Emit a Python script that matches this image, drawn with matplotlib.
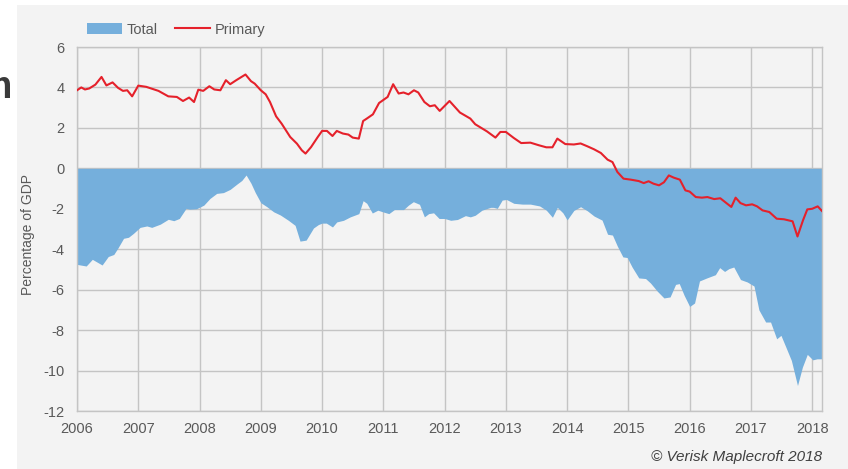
import matplotlib.pyplot as plt
from matplotlib.patches import Rectangle

# Primary balance (red line), % of GDP
primary_x = [2006.0, 2006.07, 2006.13, 2006.2, 2006.3, 2006.4, 2006.48, 2006.58, 2006.67, 2006.75, 2006.82, 2006.9,
             2007.0, 2007.13, 2007.33, 2007.49, 2007.63, 2007.73, 2007.83, 2007.91, 2007.98,
             2008.06, 2008.16, 2008.24, 2008.34, 2008.43, 2008.5, 2008.6, 2008.75, 2008.84, 2008.9,
             2009.0, 2009.08, 2009.15, 2009.25, 2009.34, 2009.48, 2009.59, 2009.67, 2009.73, 2009.82, 2009.93,
             2010.0, 2010.08, 2010.17, 2010.24, 2010.34, 2010.43, 2010.5, 2010.6, 2010.67, 2010.73, 2010.83, 2010.93,
             2011.07, 2011.16, 2011.25, 2011.33, 2011.41, 2011.5, 2011.57, 2011.67, 2011.76, 2011.84, 2011.92,
             2012.08, 2012.25, 2012.42, 2012.5, 2012.69, 2012.83, 2012.91,
             2013.0, 2013.13, 2013.25, 2013.4, 2013.54, 2013.66, 2013.76, 2013.84, 2013.97,
             2014.11, 2014.22, 2014.33, 2014.44, 2014.55, 2014.66, 2014.74, 2014.82, 2014.92,
             2015.04, 2015.17, 2015.25, 2015.33, 2015.41, 2015.5, 2015.58, 2015.66, 2015.74, 2015.84, 2015.93,
             2016.0, 2016.1, 2016.2, 2016.29, 2016.4, 2016.5, 2016.6, 2016.68, 2016.75, 2016.83, 2016.92,
             2017.02, 2017.1, 2017.19, 2017.3, 2017.42, 2017.54, 2017.68, 2017.76, 2017.85, 2017.92,
             2018.0, 2018.09, 2018.16]
primary = [3.86, 4.0, 3.9, 3.95, 4.14, 4.52, 4.1, 4.25, 3.98, 3.83, 3.86, 3.56,
           4.09, 4.03, 3.83, 3.56, 3.53, 3.33, 3.5, 3.28, 3.89,
           3.83, 4.06, 3.9, 3.86, 4.36, 4.16, 4.36, 4.64, 4.31, 4.19,
           3.86, 3.66, 3.28, 2.57, 2.21, 1.55, 1.22, 0.89, 0.73, 1.05, 1.55,
           1.85, 1.85, 1.6, 1.85, 1.72, 1.67, 1.52, 1.47, 2.34, 2.46, 2.67, 3.23,
           3.53, 4.16, 3.7, 3.75, 3.66, 3.86, 3.75, 3.28, 3.07, 3.12, 2.84,
           3.33, 2.76, 2.46, 2.18, 1.83, 1.52, 1.8,
           1.8, 1.5, 1.25, 1.27, 1.14, 1.04, 1.04, 1.47, 1.2,
           1.18, 1.23, 1.09, 0.94, 0.76, 0.43, 0.31, -0.18, -0.51,
           -0.56, -0.63, -0.73, -0.64, -0.76, -0.84, -0.69, -0.35, -0.46, -0.56, -1.09,
           -1.15, -1.42, -1.45, -1.42, -1.52, -1.48, -1.72, -1.91, -1.45, -1.72, -1.83,
           -1.78, -1.88, -2.08, -2.16, -2.49, -2.52, -2.62, -3.37, -2.57, -2.03,
           -2.0, -1.88, -2.11]

# Total balance (blue area), % of GDP
total_x = [2006.0, 2006.15, 2006.25, 2006.41, 2006.51, 2006.6, 2006.67, 2006.76, 2006.84, 2006.92,
           2007.03, 2007.14, 2007.22, 2007.36, 2007.49, 2007.58, 2007.67, 2007.78, 2007.84, 2007.95,
           2008.07, 2008.17, 2008.28, 2008.39, 2008.5, 2008.61, 2008.69, 2008.76, 2008.84, 2008.91,
           2009.0, 2009.1, 2009.21, 2009.32, 2009.45, 2009.56, 2009.64, 2009.74, 2009.86, 2009.94,
           2010.0, 2010.07, 2010.17, 2010.24, 2010.35, 2010.46, 2010.6, 2010.67, 2010.73, 2010.82, 2010.91,
           2011.0, 2011.09, 2011.18, 2011.33, 2011.41, 2011.49, 2011.59, 2011.67, 2011.74, 2011.82, 2011.91,
           2012.0, 2012.1, 2012.21, 2012.34, 2012.42, 2012.5, 2012.61, 2012.75, 2012.8, 2012.86, 2012.94,
           2013.01, 2013.13, 2013.27, 2013.4, 2013.55, 2013.66, 2013.76, 2013.84, 2013.93,
           2014.0, 2014.11, 2014.22, 2014.33, 2014.44, 2014.57, 2014.66, 2014.74, 2014.82, 2014.91, 2014.98,
           2015.06, 2015.17, 2015.28, 2015.36, 2015.47, 2015.58, 2015.68, 2015.77, 2015.83, 2015.91,
           2016.0, 2016.08, 2016.16, 2016.28, 2016.42, 2016.49, 2016.57, 2016.64, 2016.72, 2016.83, 2016.94,
           2017.05, 2017.13, 2017.24, 2017.32, 2017.42, 2017.49, 2017.57, 2017.66, 2017.76, 2017.84, 2017.92,
           2018.01, 2018.08, 2018.16]
total = [-4.75, -4.83, -4.5, -4.78, -4.36, -4.26, -3.93, -3.46, -3.41, -3.22,
         -2.92, -2.85, -2.92, -2.76, -2.52, -2.59, -2.48, -1.98, -2.02, -2.0,
         -1.82, -1.49, -1.24, -1.2, -1.04, -0.78, -0.6, -0.33, -0.74, -1.2,
         -1.7, -1.9, -2.15, -2.31, -2.57, -2.82, -3.6, -3.55, -2.95, -2.78,
         -2.71, -2.71, -2.9, -2.65, -2.57, -2.4, -2.24, -1.6, -1.73, -2.21, -2.07,
         -2.16, -2.24, -2.04, -2.04, -1.82, -1.65, -1.78, -2.4, -2.24, -2.2, -2.48,
         -2.48, -2.57, -2.53, -2.34, -2.4, -2.32, -2.07, -1.93, -1.93, -1.98, -1.57,
         -1.54, -1.73, -1.77, -1.77, -1.86, -2.07, -2.42, -1.93, -2.2,
         -2.55, -2.08, -1.9, -2.1, -2.36, -2.56, -3.26, -3.3, -3.85, -4.38, -4.41,
         -4.88, -5.42, -5.45, -5.67, -6.07, -6.41, -6.36, -5.74, -5.7, -6.28,
         -6.83, -6.66, -5.57, -5.42, -5.26, -4.91, -5.1, -4.96, -4.88, -5.5, -5.62,
         -5.82, -7.0, -7.6, -7.6, -8.43, -8.26, -8.84, -9.5, -10.74, -9.83, -9.2,
         -9.47, -9.42, -9.42]

years = list(range(2006, 2019))
yticks = list(range(-12, 7, 2))

panel = '#f3f3f3'
text_col = '#595959'
plt.rcParams['font.family'] = ['Liberation Sans', 'DejaVu Sans']
plt.rcParams['axes.unicode_minus'] = False

fig = plt.figure(figsize=(8.48, 4.69), dpi=100)
fig.patch.set_facecolor('white')

# leftover slide title glyph, partly hidden by the chart panel
fig.text(-0.025, 0.812, 'm', fontsize=27, fontweight='bold', color='#3a3a3a',
         va='center', ha='left', zorder=0.5)
fig.patches.append(Rectangle((17 / 848, 0), 1, 1 - 5 / 469, transform=fig.transFigure,
                             facecolor=panel, edgecolor='none', zorder=1))

ax = fig.add_axes([77 / 848, 1 - 411 / 469, 745 / 848, 364 / 469])
ax.set_zorder(2)
ax.set_facecolor(panel)

ax.fill_between(total_x, total, 0, color='#75afdc', linewidth=0, label='Total', zorder=2)
ax.plot(primary_x, primary, color='#e5212b', linewidth=1.5, label='Primary', zorder=3)

ax.set_xlim(2006, 2018.16)
ax.set_ylim(-12, 6)
ax.set_xticks(years)
ax.set_xticklabels([str(y) for y in years])
ax.set_yticks(yticks)
ax.grid(True, color='#c4c4c4', linewidth=1)
ax.set_axisbelow(True)
for s in ax.spines.values():
    s.set_color('#c4c4c4')
    s.set_linewidth(1)
ax.tick_params(length=0, labelsize=10.5, labelcolor=text_col)
ax.tick_params(axis='y', pad=9)
ax.tick_params(axis='x', pad=8)

fig.text(28 / 848, 0.5, 'Percentage of GDP', rotation=90, fontsize=10,
         color=text_col, va='center', ha='center')

ax.legend(loc='lower left', bbox_to_anchor=(0.0, 1.0), ncol=2, frameon=False,
          fontsize=10.5, labelcolor=text_col, handlelength=2.4, handleheight=0.8,
          handletextpad=0.3, columnspacing=1.2, borderaxespad=0.4, borderpad=0.3)

fig.text(822 / 848, 1 - 457 / 469, '© Verisk Maplecroft 2018', fontsize=11,
         style='italic', color='#404040', ha='right', va='center')

fig.savefig('out.png', dpi=100)
